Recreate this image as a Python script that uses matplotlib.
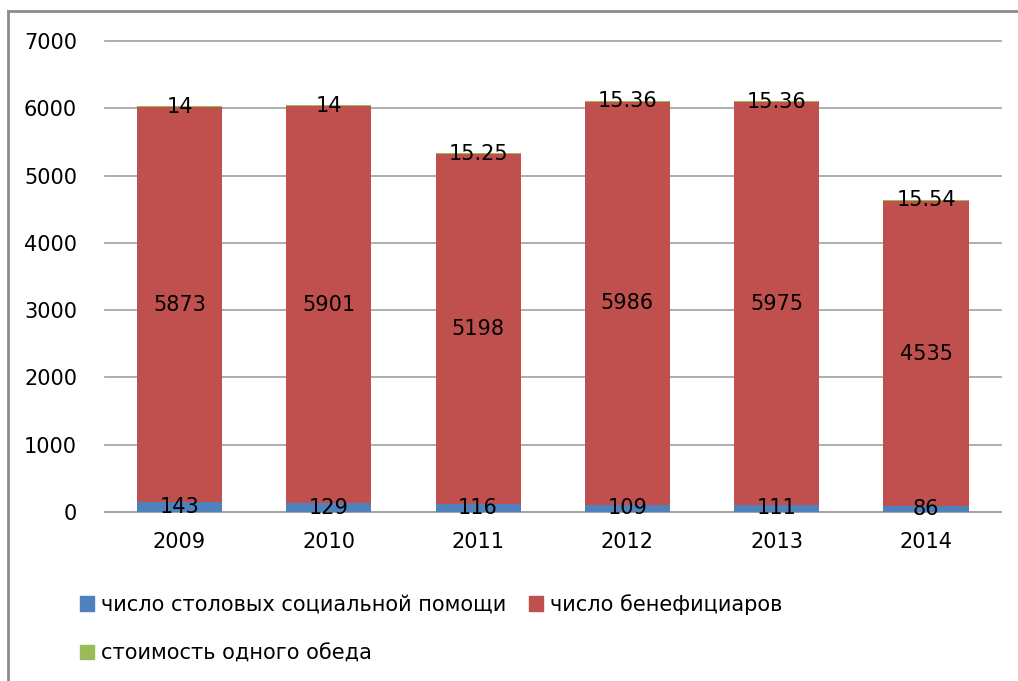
import matplotlib
matplotlib.use("Agg")
import numpy as np
from matplotlib import pyplot as plt
from matplotlib.patches import Patch
from matplotlib.lines import Line2D

years = ["2009", "2010", "2011", "2012", "2013", "2014"]
canteens = [143, 129, 116, 109, 111, 86]
beneficiaries = [5873, 5901, 5198, 5986, 5975, 4535]
meal_cost = [14, 14, 15.25, 15.36, 15.36, 15.54]
cost_labels = ["14", "14", "15.25", "15.36", "15.36", "15.54"]

names = ["число столовых социальной помощи", "число бенефициаров", "стоимость одного обеда"]
colors = ["#4F81BD", "#C0504D", "#9BBB59"]

plt.rcParams['font.family'] = ['DejaVu Sans']

fig = plt.figure(figsize=(10.18, 6.81), dpi=100)
ax = fig.add_axes([0.103, 0.248, 0.880, 0.692])

x = np.arange(len(years))
w = 0.57
b1 = ax.bar(x, canteens, w, color=colors[0], zorder=3)
b2 = ax.bar(x, beneficiaries, w, bottom=canteens, color=colors[1], zorder=3)
bottom3 = np.array(canteens) + np.array(beneficiaries)
b3 = ax.bar(x, meal_cost, w, bottom=bottom3, color=colors[2], zorder=3)

ax.bar_label(b1, labels=[str(v) for v in canteens], label_type="center", fontsize=15, zorder=5)
ax.bar_label(b2, labels=[str(v) for v in beneficiaries], label_type="center", fontsize=15, zorder=5)
ax.bar_label(b3, labels=cost_labels, label_type="center", fontsize=15, zorder=5)

ax.set_xlim(-0.5, len(years) - 0.5)
ax.set_ylim(0, 7000)
ax.set_yticks(np.arange(0, 7001, 1000))
ax.set_xticks(x)
ax.set_xticklabels(years)
ax.tick_params(axis="both", length=0, labelsize=15)
ax.tick_params(axis="y", pad=20)
ax.tick_params(axis="x", pad=14)
ax.grid(axis="y", color="#A0A0A0", linewidth=1.2, zorder=0)
for gl in ax.get_ygridlines():
    gl.set_clip_on(False)
ax.axhline(0, color="#A0A0A0", linewidth=1.2, zorder=2, clip_on=False)
for s in ax.spines.values():
    s.set_visible(False)

handles = [Patch(color=colors[0]), Patch(color=colors[2]), Patch(color=colors[1])]
labels = [names[0], names[2], names[1]]
fig.legend(handles, labels, ncol=2, loc="upper left", bbox_to_anchor=(0.06, 0.155),
           frameon=False, fontsize=15, handlelength=0.7, handleheight=0.7,
           handletextpad=0.3, columnspacing=1.1, labelspacing=1.35,
           bbox_transform=fig.transFigure)

fig.add_artist(Line2D([0.008, 1.0], [0.984, 0.984], color="#8C8C8C", linewidth=2, transform=fig.transFigure))
fig.add_artist(Line2D([0.008, 0.008], [0.0, 0.984], color="#8C8C8C", linewidth=2, transform=fig.transFigure))

fig.savefig("out.png", dpi=100)
